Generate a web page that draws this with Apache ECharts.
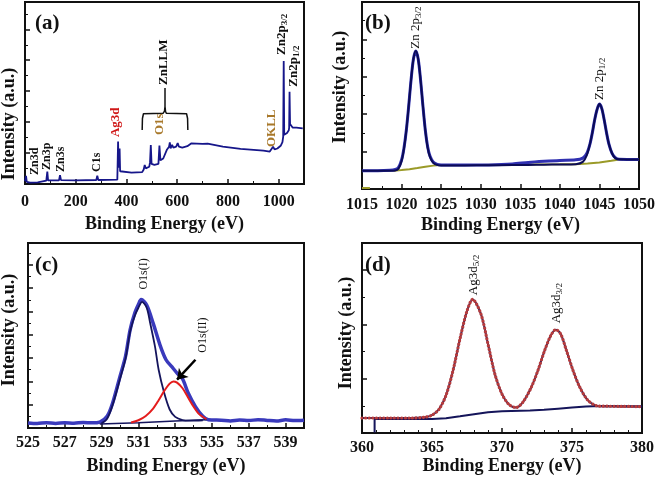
<!DOCTYPE html>
<html>
<head>
    <meta charset="utf-8">
    <title>XPS spectra</title>
    <style type="text/css">
        * {
            margin: 0;
            padding: 0;
        }

        #main {
            width: 658px;
            height: 481px;
            background: #fff;
        }
    </style>
</head>
<body>
<div id="main"></div>
<script src="https://cdn.jsdelivr.net/npm/echarts@6/dist/echarts.min.js"></script>
<script type="text/javascript">
    var FONT = '"Liberation Serif", "Times New Roman", serif';

    // (a) survey spectrum
    var surveyE = [0, 4, 7, 20, 50, 56, 84, 88, 91, 134, 138, 142, 200, 281, 285, 289, 364, 367, 369, 371, 373, 375,
        380, 420, 462, 468, 472, 476, 490, 493, 496, 499, 510, 526, 530, 534, 545, 560, 568, 571, 574, 580, 585, 596,
        602, 607, 620, 640, 655, 700, 720, 780, 850, 940, 965, 972, 978, 984, 995, 1008, 1015, 1018, 1020, 1022,
        1033, 1040, 1041.5, 1043, 1045, 1055, 1070, 1095];
    var surveyI = [1.5, 4.5, 1.2, 0.8, 0.9, 1.6, 1.8, 6.8, 2.0, 2.0, 4.8, 2.1, 2.0, 2.2, 4.5, 2.2, 2.4, 23.3, 9, 8, 19.5, 7,
        6.5, 6.3, 6.5, 8, 10.4, 8.6, 9.5, 12, 21.4, 11, 10.5, 11, 21.1, 13, 14, 19, 20.5, 22.9, 19.5, 21.5, 20, 20.5,
        22.5, 20.5, 20, 20.8, 22.3, 22, 22.2, 20.5, 19.3, 18.3, 17.8, 18.5, 20.5, 19, 19.5, 21, 23, 26, 67.6, 27,
        28, 29.5, 31, 50.7, 33, 31, 31, 30.6];
    var braceE = [462, 463, 467, 545, 550, 552, 552, 552, 554, 557, 637, 641, 642];
    var braceI = [29.7, 36, 38.6, 38.9, 40, 42.5, 52.7, 42.5, 40, 38.9, 38.6, 36, 29.7];

    // (b) Zn 2p
    var zn2pE = [1015, 1017, 1018.5, 1019.2, 1019.6, 1020, 1020.3, 1020.6, 1020.9, 1021.2, 1021.5, 1021.8, 1022.1,
        1022.4, 1022.7, 1023, 1023.3, 1023.6, 1024, 1024.5, 1025, 1028, 1031, 1034, 1036, 1038, 1040, 1042, 1042.9,
        1043.4, 1043.8, 1044.1, 1044.4, 1044.7, 1045, 1045.3, 1045.6, 1045.9, 1046.2, 1046.6, 1047, 1047.5, 1050];
    var zn2pRaw = [9.8, 9.8, 10, 10.4, 11.4, 15.5, 21.8, 31.4, 44.3, 58.4, 69.5, 73.8, 69.5, 58.4, 44.3, 31.4, 22.5,
        17.5, 14.5, 13.2, 12.9, 12.8, 12.9, 13.4, 14.2, 14.8, 15.3, 15.6, 16.5, 19, 24, 30, 37, 42.5, 45.4, 43, 37,
        30, 24, 19, 16.8, 15.9, 15.8];
    var zn2pFit = [9.8, 9.8, 9.8, 9.9, 10.8, 15, 21.5, 31.4, 44.3, 58.4, 69.5, 73.8, 69.5, 58.4, 44.3, 31.4, 22,
        17, 14, 12.9, 12.6, 12.6, 12.7, 12.8, 12.9, 13, 13.1, 13.3, 14.5, 18, 24, 30, 37, 42.5, 45.4, 43, 37, 30, 24,
        19, 16.5, 15.9, 15.8];
    var zn2pBgE = [1015, 1016, 1017, 1019, 1020, 1021, 1022, 1023, 1024, 1025, 1030, 1035, 1040, 1042, 1043.5, 1045,
        1046.5, 1047.5, 1048];
    var zn2pBgI = [0.6, 0.6, '-', 9.8, 10.1, 10.6, 11.2, 11.9, 12.5, 12.8, 12.9, 13.1, 13.2, 13.3, 13.7, 14.2, 15.1,
        15.8, 15.8];

    // (c) O 1s
    var o1sE = [525, 525.5, 526, 526.5, 527, 527.5, 528, 528.5, 528.9, 529.3, 529.6, 530, 530.3, 530.55, 530.8, 531,
        531.15, 531.45, 531.8, 532.2, 532.5, 532.8, 533.1, 533.4, 533.7, 534.1, 534.5, 534.8, 535.5, 536, 536.5, 537,
        537.5, 538, 538.5, 539, 539.5, 540];
    var o1sRaw = [2.7, 2.4, 2.9, 2.5, 2.8, 2.6, 3.0, 2.8, 3.2, 6.3, 13.5, 27.9, 38.7, 53.1, 62, 66.7, 69.4, 66.5,
        56.7, 44.1, 36.9, 33.3, 29.7, 26.5, 19, 11.5, 6.3, 4.5, 4.2, 3.8, 4.3, 4.0, 4.5, 4.1, 3.8, 4.4, 4.0, 4.2];
    var o1sIE = [529, 529.3, 529.6, 530, 530.3, 530.55, 530.8, 531, 531.2, 531.45, 531.64, 531.9, 532.1, 532.4, 532.7,
        533, 533.4, 533.8, 534.5];
    var o1sII = [2.5, 5, 12.5, 26.5, 37.5, 52, 60.5, 65, 68.2, 65, 56.7, 44.1, 31.5, 19, 10, 6, 4.3, 4.0, 4.2];
    var o1sIIE = [530.6, 531, 531.4, 531.8, 532.1, 532.4, 532.7, 532.9, 533.1, 533.4, 533.7, 534, 534.3, 534.7];
    var o1sIII = [3.0, 4.2, 6.5, 10.5, 15, 20, 24, 25.2, 24.5, 21.5, 16.5, 11.5, 7.5, 4.8];
    var o1sBgE = [528.9, 531, 533, 534.7];
    var o1sBgI = [2.2, 2.9, 3.8, 4.5];

    // (d) Ag 3d
    var agE = [360, 362, 363.5, 364.5, 365, 365.5, 366, 366.5, 367, 367.5, 367.9, 368.5, 369, 369.5, 370, 370.5, 371,
        371.5, 372.1, 372.57, 373.05, 373.5, 373.84, 374.2, 374.6, 375.07, 375.55, 376.14, 376.86, 377.5, 378.5, 380];
    var agRaw = [7.9, 7.9, 7.9, 8.3, 9.4, 12.5, 19.8, 32.8, 49.6, 64.2, 70.3, 62.5, 46.8, 30.8, 20.5, 15, 13.4, 16.3,
        24.2, 33, 43.5, 51.5, 54.4, 52, 43.5, 33, 24.2, 17.2, 14.2, 14.1, 14.0, 13.9];
    var agBgE = [360.9, 360.9, 362, 365, 366, 367, 368, 369, 370, 372, 373, 374, 375, 376, 377, 380];
    var agBgI = [0.3, 7.4, 7.5, 7.4, 7.8, 8.8, 9.9, 10.9, 11.5, 11.8, 12.2, 12.8, 13.4, 14.0, 14.2, 14.0];

    function zip(xs, ys) {
        return xs.map(function (x, i) {
            return [x, ys[i]];
        });
    }

    function xAx(g, min, max, step, minor, gap, margin, showMax) {
        return {
            type: 'value', gridIndex: g, min: min, max: max, interval: step,
            name: 'Binding Energy (eV)', nameLocation: 'middle', nameGap: gap,
            nameTextStyle: {fontFamily: FONT, fontWeight: 'bold', fontSize: 18, color: '#111'},
            axisLine: {lineStyle: {color: '#111', width: 2}},
            axisTick: {inside: true, length: 5, lineStyle: {color: '#111', width: 1.5}},
            minorTick: {show: true, splitNumber: minor, length: 3, lineStyle: {color: '#111', width: 1}},
            axisLabel: {
                margin: margin, fontFamily: FONT, fontWeight: 'bold', fontSize: 16, color: '#111',
                showMaxLabel: showMax,
                formatter: function (v) {
                    return String(v);
                }
            },
            splitLine: {show: false}
        };
    }

    function yAx(g, step) {
        return {
            type: 'value', gridIndex: g, min: 0, max: 100, interval: step,
            axisLine: {lineStyle: {color: '#111', width: 2}},
            axisTick: {inside: true, length: 5, lineStyle: {color: '#111', width: 1.5}},
            minorTick: {show: true, splitNumber: 2, length: 3, lineStyle: {color: '#111', width: 1}},
            axisLabel: {show: false},
            splitLine: {show: false}
        };
    }

    function line(g, data, color, width, extra) {
        var s = {
            type: 'line', xAxisIndex: g, yAxisIndex: g, data: data, symbol: 'none', silent: true,
            lineStyle: {color: color, width: width}, animation: false
        };
        for (var k in extra) s[k] = extra[k];
        return s;
    }

    function grid(l, t, w, h) {
        return {left: l, top: t, width: w, height: h, show: true, borderColor: '#111', borderWidth: 2};
    }

    var chart = echarts.init(document.getElementById('main'));

    var option = {
        backgroundColor: '#fff',
        animation: false,
        grid: [grid(25, 2, 279, 182), grid(362, 2, 280, 187), grid(28, 243, 276, 185), grid(362, 243, 280, 190)],
        xAxis: [
            xAx(0, 0, 1100, 200, 2, 31, 10, false),
            xAx(1, 1015, 1050, 5, 2, 27, 8, true),
            xAx(2, 525, 540, 2, 2, 29, 7, false),
            xAx(3, 360, 380, 5, 5, 24, 7, true)
        ],
        yAxis: [yAx(0, 17), yAx(1, 20), yAx(2, 12.6), yAx(3, 28.6)],
        series: [
            line(0, zip(surveyE, surveyI), '#16168a', 1.8),
            line(0, zip(braceE, braceI), '#111', 1.5),

            line(1, zip(zn2pBgE, zn2pBgI), '#9a9a28', 2),
            line(1, zip(zn2pE, zn2pRaw), '#3030b0', 3, {smooth: 0.3}),
            line(1, zip(zn2pE, zn2pFit), '#0b0b55', 2, {smooth: 0.3}),

            line(2, zip(o1sE, o1sRaw), '#3a3abc', 3.5, {smooth: 0.3}),
            line(2, zip(o1sBgE, o1sBgI), '#14145c', 1.5),
            line(2, zip(o1sIE, o1sII), '#14145c', 1.8, {smooth: 0.3}),
            line(2, zip(o1sIIE, o1sIII), '#e41c1c', 2, {
                smooth: 0.3,
                markLine: {
                    silent: true, symbol: ['none', 'arrow'], symbolSize: 10,
                    lineStyle: {color: '#000', width: 2.5, type: 'solid'},
                    label: {show: false},
                    data: [[{coord: [534.1, 36.9]}, {coord: [533.1, 26.1]}]]
                }
            }),

            line(3, zip(agBgE, agBgI), '#15155a', 2),
            line(3, zip(agE, agRaw), '#15155a', 2, {smooth: 0.3}),
            line(3, zip(agE, agRaw), '#b83c3c', 3.2, {smooth: 0.3, lineStyle: {color: '#b83c3c', width: 3.2, type: [0.2, 3.4], cap: 'round'}})
        ]
    };
    chart.setOption(option);

    // peak labels, written bottom-to-top like the original figure
    function vtext(g, pos, main, sub, size, weight, color) {
        var p = chart.convertToPixel({gridIndex: g}, pos);
        var rich = {
            m: {fontFamily: FONT, fontSize: size, fontWeight: weight, fill: color, lineHeight: size + 2},
            s: {fontFamily: FONT, fontSize: Math.round(size * 0.72), fontWeight: weight, fill: color,
                verticalAlign: 'bottom', lineHeight: size + 2, padding: [3, 0, 0, 0]}
        };
        return {
            type: 'text', x: p[0], y: p[1], rotation: Math.PI / 2, silent: true, z: 100,
            style: {
                text: '{m|' + main + '}' + (sub ? '{s|' + sub + '}' : ''),
                rich: rich, align: 'left', verticalAlign: 'middle'
            }
        };
    }

    // y axis titles, centred where the original has them
    function ytitle(x, y) {
        return {
            type: 'text', x: x, y: y, rotation: Math.PI / 2, silent: true, z: 100,
            style: {
                text: 'Intensity (a.u.)', fontFamily: FONT, fontWeight: 'bold', fontSize: 18, fill: '#111',
                align: 'center', verticalAlign: 'middle'
            }
        };
    }

    function tag(x, y, t) {
        return {
            type: 'text', left: x, top: y, silent: true, z: 100,
            style: {text: t, fontFamily: FONT, fontWeight: 'bold', fontSize: 21, fill: '#111'}
        };
    }

    var BLACK = '#111', RED = '#d01818', BROWN = '#a8782a';
    chart.setOption({
        graphic: [
            ytitle(9, 124), ytitle(340, 87), ytitle(9, 330), ytitle(346, 333),
            tag(35, 13, '(a)'), tag(365, 13, '(b)'), tag(35, 255, '(c)'), tag(365, 255, '(d)'),
            vtext(0, [39, 5], 'Zn3d', '', 12, 'bold', BLACK),
            vtext(0, [87, 7.7], 'Zn3p', '', 12, 'bold', BLACK),
            vtext(0, [142, 6.6], 'Zn3s', '', 12, 'bold', BLACK),
            vtext(0, [284, 6.6], 'C1s', '', 12, 'bold', BLACK),
            vtext(0, [359, 25.8], 'Ag3d', '', 13, 'bold', RED),
            vtext(0, [529, 26.9], 'O1s', '', 13, 'bold', BROWN),
            vtext(0, [974, 20.3], 'OKLL', '', 13, 'bold', BROWN),
            vtext(0, [548, 54.4], 'ZnLLM', '', 13, 'bold', BLACK),
            vtext(0, [1012, 70.9], 'Zn2p', '3/2', 13, 'bold', BLACK),
            vtext(0, [1059, 53.5], 'Zn2p', '1/2', 13, 'bold', BLACK),
            vtext(1, [1021.8, 75], 'Zn 2p', '3/2', 13, 'normal', BLACK),
            vtext(1, [1045, 47.6], 'Zn 2p', '1/2', 13, 'normal', BLACK),
            vtext(2, [531.3, 74.8], 'O1s(I)', '', 12, 'normal', BLACK),
            vtext(2, [534.5, 40.7], 'O1s(II)', '', 12, 'normal', BLACK),
            vtext(3, [368, 72.5], 'Ag3d', '5/2', 13, 'normal', BLACK),
            vtext(3, [373.9, 57.7], 'Ag3d', '3/2', 13, 'normal', BLACK)
        ]
    });
</script>
</body>
</html>
